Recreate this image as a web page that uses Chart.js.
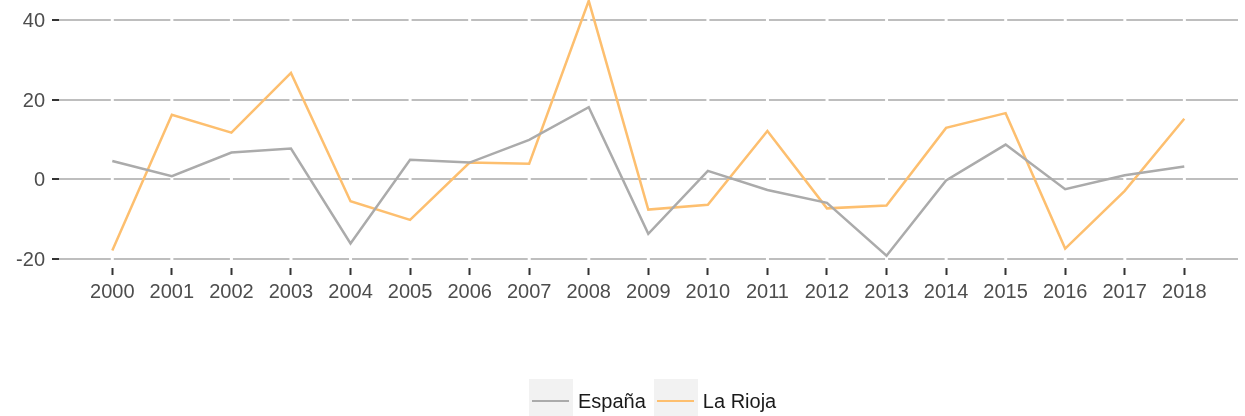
<!DOCTYPE html>
<html>
<head>
<meta charset="utf-8">
<script src="https://cdn.jsdelivr.net/npm/chart.js@4/dist/chart.umd.min.js"></script>
<style>
  body { margin: 0; background: #fff; font-family: 'Liberation Sans', Arial, sans-serif; }
  #wrap { position: relative; width: 1245px; height: 416px; }
  #legend { position: absolute; left: 529px; top: 379px; display: flex; }
  .item { display: flex; align-items: center; margin-right: 8px; height: 44px; }
  .key { position: relative; width: 44px; height: 44px; background: #f2f2f2; }
  .key i { position: absolute; left: 3px; top: 21px; width: 37px; height: 2px; }
  .item span { margin-left: 5px; font-size: 20px; color: #1a1a1a; }
</style>
</head>
<body>
<div id="wrap">
  <canvas id="chart"></canvas>
  <div id="legend"></div>
</div>
<script>
// serie anual: España vs La Rioja
const years = [2000,2001,2002,2003,2004,2005,2006,2007,2008,2009,2010,2011,2012,2013,2014,2015,2016,2017,2018];
const espana = [4.6, 0.8, 6.7, 7.7, -16.1, 4.9, 4.2, 9.9, 18.1, -13.7, 2.1, -2.7, -5.9, -19.2, -0.3, 8.7, -2.5, 1.0, 3.2];
const laRioja = [-17.9, 16.2, 11.7, 26.7, -5.5, -10.2, 4.2, 3.9, 44.8, -7.6, -6.4, 12.1, -7.3, -6.6, 12.9, 16.6, -17.4, -2.9, 15.2];
const yTicks = [-20, 0, 20, 40];

Chart.defaults.font.family = "'Liberation Sans', Arial, sans-serif";

const toPts = arr => arr.map((v, i) => ({ x: years[i], y: v }));

const chart = new Chart(document.getElementById('chart').getContext('2d'), {
  type: 'line',
  data: {
    datasets: [
      { label: 'España', data: toPts(espana), borderColor: '#ababab', borderWidth: 2.5, pointRadius: 0, tension: 0 },
      { label: 'La Rioja', data: toPts(laRioja), borderColor: '#fdbf6f', borderWidth: 2.5, pointRadius: 0, tension: 0 }
    ]
  },
  options: {
    responsive: true, maintainAspectRatio: false, animation: false,
    layout: { padding: { top: 0, right: 7, bottom: 0, left: 0 } },
    plugins: { legend: { display: false }, tooltip: { enabled: false } },
    scales: {
      x: {
        type: 'linear', min: 1999.105, max: 2018.902,
        afterBuildTicks: s => { s.ticks = years.map(v => ({ value: v })); },
        afterFit: s => { s.height = 148; s.paddingLeft = 0; s.paddingRight = 0; },
        grid: { drawOnChartArea: false, tickLength: 7, tickColor: '#333333', tickWidth: 2 },
        border: { display: false },
        ticks: { color: '#4d4d4d', font: { size: 20 }, padding: 5, autoSkip: false, maxRotation: 0, callback: v => String(v) }
      },
      y: {
        min: -22.27, max: 45.0,
        afterBuildTicks: s => { s.ticks = yTicks.map(v => ({ value: v })); },
        afterFit: s => { s.width = 59; s.paddingTop = 0; s.paddingBottom = 0; },
        grid: { color: '#bebebe', lineWidth: 2, tickLength: 7, tickColor: '#333333', tickWidth: 2 },
        border: { display: false, dash: [56.56, 3], dashOffset: 4.76 },
        ticks: { color: '#4d4d4d', font: { size: 20 }, padding: 7, labelOffset: 1.5 }
      }
    }
  }
});

// legend as html, built from the datasets
const legend = document.getElementById('legend');
chart.data.datasets.forEach(ds => {
  const item = document.createElement('div');
  item.className = 'item';
  item.innerHTML = '<div class="key"><i style="background:' + ds.borderColor + '"></i></div><span>' + ds.label + '</span>';
  legend.appendChild(item);
});
</script>
</body>
</html>
